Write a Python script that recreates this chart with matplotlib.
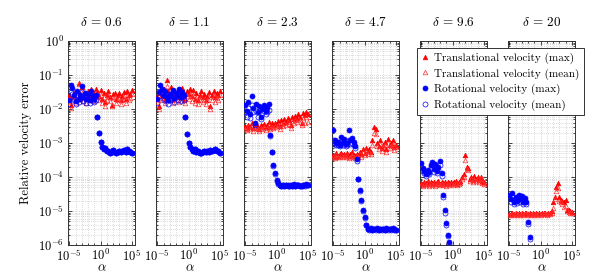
import numpy as np
import matplotlib
matplotlib.use("Agg")
import matplotlib.pyplot as plt
from matplotlib.ticker import FixedLocator, LogLocator, NullFormatter, LogFormatterSciNotation
from matplotlib.lines import Line2D

plt.rcParams['font.family'] = 'serif'
plt.rcParams['font.serif'] = ['cmr10', 'DejaVu Serif']
plt.rcParams['mathtext.fontset'] = 'cm'
plt.rcParams['axes.formatter.use_mathtext'] = True
plt.rcParams['axes.unicode_minus'] = True

# ---------------- data ----------------
alpha = 10.0 ** np.arange(-5, 5.001, 0.25)   # 41 regularization values
deltas = ["0.6", "1.1", "2.3", "4.7", "9.6", "20"]
nan = np.nan

# panel delta = 0.6
tm1 = [2.5e-2, 1.3e-2, 2.2e-2, 3.0e-2, 2.0e-2, 3.5e-2, 6.0e-2, 2.8e-2, 4.5e-2, 2.2e-2, 3.0e-2, 2.0e-2, 3.3e-2, 2.5e-2, 3.8e-2, 2.2e-2, 2.8e-2, 4.0e-2, 3.2e-2, 2.4e-2, 3.6e-2, 2.0e-2, 3.0e-2, 1.6e-2, 2.6e-2, 3.4e-2, 2.2e-2, 1.3e-2, 2.8e-2, 3.0e-2, 2.0e-2, 2.6e-2, 2.9e-2, 1.8e-2, 2.4e-2, 3.1e-2, 2.0e-2, 3.3e-2, 2.5e-2, 2.8e-2, 3.6e-2]
tn1 = [1.6e-2, 1.1e-2, 1.7e-2, 2.2e-2, 1.5e-2, 2.6e-2, 5.5e-2, 2.0e-2, 3.0e-2, 1.7e-2, 2.2e-2, 1.5e-2, 2.4e-2, 1.9e-2, 2.8e-2, 1.7e-2, 2.0e-2, 2.9e-2, 2.3e-2, 1.8e-2, 2.6e-2, 1.5e-2, 2.2e-2, 1.2e-2, 1.9e-2, 2.5e-2, 1.7e-2, 1.2e-2, 2.1e-2, 2.2e-2, 1.5e-2, 1.9e-2, 2.1e-2, 1.4e-2, 1.8e-2, 2.3e-2, 1.5e-2, 2.4e-2, 1.9e-2, 2.1e-2, 2.7e-2]
rm1 = [1.8e-2, 5.0e-2, 4.2e-2, 2.5e-2, 1.7e-2, 3.5e-2, 2.0e-2, 2.6e-2, 4.6e-2, 2.2e-2, 3.0e-2, 2.0e-2, 2.8e-2, 1.9e-2, 3.3e-2, 2.4e-2, 2.0e-2, 2.6e-2, 5.8e-3, 2.0e-3, 1.05e-3, 7.5e-4, 6.5e-4, 7.0e-4, 5.8e-4, 6.0e-4, 5.2e-4, 5.5e-4, 6.2e-4, 5.4e-4, 5.0e-4, 5.6e-4, 6.0e-4, 5.3e-4, 5.7e-4, 6.4e-4, 5.5e-4, 6.6e-4, 6.0e-4, 5.6e-4, 5.0e-4]
rn1 = [1.4e-2, 3.2e-2, 2.8e-2, 1.8e-2, 1.4e-2, 2.5e-2, 1.6e-2, 2.0e-2, 3.2e-2, 1.7e-2, 2.2e-2, 1.5e-2, 2.0e-2, 1.5e-2, 2.4e-2, 1.8e-2, 1.6e-2, 1.9e-2, 5.8e-3, 2.0e-3, 1.05e-3, 7.5e-4, 6.5e-4, 7.0e-4, 5.8e-4, 6.0e-4, 5.2e-4, 5.5e-4, 6.2e-4, 5.4e-4, 5.0e-4, 5.6e-4, 6.0e-4, 5.3e-4, 5.7e-4, 6.4e-4, 5.5e-4, 6.6e-4, 6.0e-4, 5.6e-4, 5.0e-4]

# panel delta = 1.1
tm2 = [2.2e-2, 1.2e-2, 3.0e-2, 2.4e-2, 3.8e-2, 2.0e-2, 7.0e-2, 3.4e-2, 2.6e-2, 4.4e-2, 2.0e-2, 3.2e-2, 2.4e-2, 3.6e-2, 2.2e-2, 3.0e-2, 4.2e-2, 2.6e-2, 2.0e-2, 3.4e-2, 2.8e-2, 4.0e-2, 2.4e-2, 3.6e-2, 2.0e-2, 2.9e-2, 1.8e-2, 2.5e-2, 3.3e-2, 2.2e-2, 2.7e-2, 1.9e-2, 2.4e-2, 3.2e-2, 1.2e-2, 2.6e-2, 3.4e-2, 2.2e-2, 2.9e-2, 2.5e-2, 3.5e-2]
tn2 = [1.6e-2, 1.0e-2, 2.1e-2, 1.8e-2, 2.7e-2, 1.5e-2, 4.6e-2, 2.4e-2, 1.9e-2, 3.0e-2, 1.5e-2, 2.3e-2, 1.8e-2, 2.5e-2, 1.6e-2, 2.1e-2, 2.9e-2, 1.9e-2, 1.5e-2, 2.4e-2, 2.0e-2, 2.8e-2, 1.7e-2, 2.5e-2, 1.5e-2, 2.1e-2, 1.4e-2, 1.8e-2, 2.3e-2, 1.6e-2, 1.9e-2, 1.4e-2, 1.8e-2, 2.2e-2, 1.0e-2, 1.9e-2, 2.4e-2, 1.6e-2, 2.1e-2, 1.8e-2, 2.5e-2]
rm2 = [2.0e-2, 3.2e-2, 5.0e-2, 4.0e-2, 2.6e-2, 3.5e-2, 2.2e-2, 1.8e-2, 2.8e-2, 2.4e-2, 3.6e-2, 2.1e-2, 3.0e-2, 2.5e-2, 3.8e-2, 2.2e-2, 3.2e-2, 2.6e-2, 5.9e-3, 1.9e-3, 1.0e-3, 7.5e-4, 6.8e-4, 6.0e-4, 6.5e-4, 5.5e-4, 5.8e-4, 5.2e-4, 5.0e-4, 5.6e-4, 6.0e-4, 5.4e-4, 5.9e-4, 5.5e-4, 6.2e-4, 5.7e-4, 6.4e-4, 6.6e-4, 5.8e-4, 6.0e-4, 5.2e-4]
rn2 = [1.5e-2, 2.4e-2, 3.4e-2, 2.8e-2, 1.9e-2, 2.5e-2, 1.7e-2, 1.4e-2, 2.0e-2, 1.8e-2, 2.6e-2, 1.6e-2, 2.2e-2, 1.9e-2, 2.7e-2, 1.7e-2, 2.3e-2, 1.9e-2, 5.9e-3, 1.9e-3, 1.0e-3, 7.5e-4, 6.8e-4, 6.0e-4, 6.5e-4, 5.5e-4, 5.8e-4, 5.2e-4, 5.0e-4, 5.6e-4, 6.0e-4, 5.4e-4, 5.9e-4, 5.5e-4, 6.2e-4, 5.7e-4, 6.4e-4, 6.6e-4, 5.8e-4, 6.0e-4, 5.2e-4]

# panel delta = 2.3
tm3 = [3.2e-3, 2.8e-3, 3.5e-3, 3.0e-3, 4.0e-3, 2.7e-3, 3.3e-3, 3.8e-3, 3.0e-3, 2.6e-3, 3.4e-3, 3.1e-3, 3.6e-3, 2.9e-3, 3.5e-3, 4.2e-3, 3.0e-3, 3.8e-3, 3.3e-3, 4.0e-3, 3.6e-3, 4.4e-3, 3.2e-3, 4.6e-3, 4.0e-3, 5.0e-3, 4.2e-3, 5.5e-3, 4.6e-3, 3.4e-3, 5.8e-3, 5.0e-3, 6.4e-3, 5.4e-3, 7.0e-3, 6.0e-3, 4.0e-3, 7.6e-3, 6.5e-3, 8.2e-3, 7.2e-3]
tn3 = [2.6e-3, 2.4e-3, 2.9e-3, 2.5e-3, 3.2e-3, 2.3e-3, 2.7e-3, 3.0e-3, 2.5e-3, 2.2e-3, 2.8e-3, 2.6e-3, 2.9e-3, 2.4e-3, 2.8e-3, 3.3e-3, 2.5e-3, 3.0e-3, 2.7e-3, 3.2e-3, 2.9e-3, 3.4e-3, 2.6e-3, 3.6e-3, 3.2e-3, 3.8e-3, 3.3e-3, 4.2e-3, 3.6e-3, 2.8e-3, 4.4e-3, 3.9e-3, 4.8e-3, 4.2e-3, 5.2e-3, 4.6e-3, 3.3e-3, 5.6e-3, 4.0e-3, 6.0e-3, 4.2e-3]
rm3 = [1.3e-2, 9.0e-3, 1.6e-2, 7.0e-3, 2.4e-2, 1.1e-2, 3.9e-3, 1.4e-2, 8.0e-3, 1.2e-2, 6.0e-3, 1.0e-2, 1.3e-2, 9.0e-3, 1.1e-2, 1.4e-2, 1.7e-3, 5.6e-4, 2.2e-4, 1.3e-4, 8.0e-5, 6.5e-5, 6.0e-5, 5.6e-5, 5.8e-5, 5.5e-5, 6.0e-5, 5.7e-5, 5.4e-5, 5.9e-5, 5.6e-5, 6.1e-5, 5.5e-5, 5.8e-5, 6.0e-5, 5.6e-5, 5.4e-5, 5.9e-5, 5.7e-5, 6.1e-5, 5.8e-5]
rn3 = [8.0e-3, 6.0e-3, 1.1e-2, 5.5e-3, 1.3e-2, 8.0e-3, 3.5e-3, 9.0e-3, 6.0e-3, 8.5e-3, 5.0e-3, 7.5e-3, 9.0e-3, 7.0e-3, 8.0e-3, 9.5e-3, 1.6e-3, 5.4e-4, 2.1e-4, 1.25e-4, 7.8e-5, 6.4e-5, 5.9e-5, 5.5e-5, 5.7e-5, 5.4e-5, 5.9e-5, 5.6e-5, 5.3e-5, 5.8e-5, 5.5e-5, 6.0e-5, 5.4e-5, 5.7e-5, 5.9e-5, 5.5e-5, 5.3e-5, 5.8e-5, 5.6e-5, 6.0e-5, 5.7e-5]

# panel delta = 4.7
tm4 = [4.5e-4, 4.0e-4, 5.0e-4, 4.2e-4, 4.6e-4, 5.2e-4, 4.3e-4, 4.8e-4, 4.4e-4, 5.0e-4, 4.1e-4, 4.6e-4, 5.3e-4, 4.5e-4, 4.2e-4, 4.9e-4, 4.4e-4, 5.5e-4, 4.6e-4, 6.5e-4, 5.2e-4, 7.0e-4, 5.8e-4, 6.6e-4, 5.5e-4, 1.2e-3, 3.0e-3, 2.6e-3, 1.0e-3, 8.0e-4, 1.2e-3, 7.0e-4, 9.0e-4, 1.1e-3, 6.5e-4, 1.3e-3, 8.5e-4, 1.0e-3, 1.2e-3, 7.5e-4, 9.0e-4]
tn4 = [3.9e-4, 3.6e-4, 4.3e-4, 3.8e-4, 4.0e-4, 4.4e-4, 3.8e-4, 4.1e-4, 3.9e-4, 4.3e-4, 3.7e-4, 4.0e-4, 4.5e-4, 3.9e-4, 3.7e-4, 4.2e-4, 3.9e-4, 4.6e-4, 4.0e-4, 5.4e-4, 4.5e-4, 5.8e-4, 4.9e-4, 5.5e-4, 4.7e-4, 9.0e-4, 2.0e-3, 1.8e-3, 8.0e-4, 6.6e-4, 9.5e-4, 6.0e-4, 7.5e-4, 8.8e-4, 5.6e-4, 1.0e-3, 7.0e-4, 8.2e-4, 9.5e-4, 6.3e-4, 7.4e-4]
rm4 = [2.4e-3, 1.2e-3, 1.0e-3, 1.1e-3, 9.0e-4, 1.5e-3, 1.1e-3, 1.3e-3, 9.5e-4, 1.0e-3, 2.4e-3, 1.2e-3, 1.4e-3, 1.1e-3, 8.0e-4, 3.4e-4, 9.0e-5, 4.2e-5, 2.1e-5, 1.07e-5, 6.5e-6, 3.9e-6, 3.0e-6, 2.9e-6, 3.1e-6, 2.8e-6, 3.0e-6, 2.9e-6, 3.1e-6, 2.8e-6, 3.0e-6, 2.9e-6, 3.0e-6, 2.8e-6, 3.1e-6, 2.9e-6, 3.0e-6, 2.9e-6, 3.1e-6, 2.9e-6, 2.8e-6]
rn4 = [1.2e-3, 9.5e-4, 8.5e-4, 9.0e-4, 8.0e-4, 1.1e-3, 9.0e-4, 1.0e-3, 8.2e-4, 8.6e-4, 1.2e-3, 9.4e-4, 1.0e-3, 9.0e-4, 7.0e-4, 3.0e-4, 8.5e-5, 4.0e-5, 2.0e-5, 1.03e-5, 6.3e-6, 3.8e-6, 2.9e-6, 2.8e-6, 3.0e-6, 2.7e-6, 2.9e-6, 2.8e-6, 3.0e-6, 2.7e-6, 2.9e-6, 2.8e-6, 2.9e-6, 2.7e-6, 3.0e-6, 2.8e-6, 2.9e-6, 2.8e-6, 3.0e-6, 2.8e-6, 2.7e-6]

# panel delta = 9.6
tm5 = [6.8e-5, 6.2e-5, 7.2e-5, 6.5e-5, 7.5e-5, 6.3e-5, 7.0e-5, 6.6e-5, 7.3e-5, 6.2e-5, 6.9e-5, 7.4e-5, 6.4e-5, 7.1e-5, 6.6e-5, 7.0e-5, 6.3e-5, 7.2e-5, 6.7e-5, 7.3e-5, 6.5e-5, 6.9e-5, 7.4e-5, 6.4e-5, 7.0e-5, 7.6e-5, 1.0e-4, 1.2e-4, 4.5e-4, 2.0e-4, 1.9e-4, 9.0e-5, 1.0e-4, 8.0e-5, 1.05e-4, 9.0e-5, 1.0e-4, 8.0e-5, 1.0e-4, 7.5e-5, 7.0e-5]
tn5 = [6.0e-5, 5.6e-5, 6.3e-5, 5.8e-5, 6.5e-5, 5.6e-5, 6.2e-5, 5.9e-5, 6.4e-5, 5.5e-5, 6.1e-5, 6.5e-5, 5.7e-5, 6.2e-5, 5.9e-5, 6.2e-5, 5.6e-5, 6.3e-5, 6.0e-5, 6.4e-5, 5.8e-5, 6.1e-5, 6.5e-5, 5.7e-5, 6.2e-5, 6.6e-5, 8.5e-5, 1.0e-4, 3.2e-4, 1.7e-4, 1.6e-4, 7.8e-5, 8.6e-5, 7.0e-5, 9.0e-5, 7.8e-5, 8.5e-5, 7.0e-5, 8.6e-5, 6.6e-5, 6.2e-5]
rm5 = [2.5e-4, 1.8e-4, 1.5e-4, 1.2e-4, 1.6e-4, 1.4e-4, 2.2e-4, 2.8e-4, 1.7e-4, 2.4e-4, 1.5e-4, 2.0e-4, 3.0e-4, 1.3e-4, 3.0e-5, 1.07e-5, 4.5e-6, 2.0e-6, 1.2e-6, nan, nan, nan, nan, nan, nan, nan, nan, nan, nan, nan, nan, nan, nan, nan, nan, nan, nan, nan, nan, nan, nan]
rn5 = [2.0e-4, 1.5e-4, 1.3e-4, 1.05e-4, 1.35e-4, 1.2e-4, 1.8e-4, 2.2e-4, 1.45e-4, 1.9e-4, 1.3e-4, 1.65e-4, 2.3e-4, 1.1e-4, 2.5e-5, 9.0e-6, 3.9e-6, 1.8e-6, 1.1e-6, nan, nan, nan, nan, nan, nan, nan, nan, nan, nan, nan, nan, nan, nan, nan, nan, nan, nan, nan, nan, nan, nan]

# panel delta = 20
tm6 = [8.4e-6, 8.0e-6, 8.8e-6, 8.2e-6, 9.0e-6, 8.1e-6, 8.6e-6, 8.3e-6, 8.9e-6, 8.0e-6, 8.5e-6, 9.0e-6, 8.2e-6, 8.7e-6, 8.4e-6, 8.8e-6, 8.1e-6, 8.6e-6, 8.3e-6, 9.0e-6, 8.2e-6, 8.7e-6, 8.5e-6, 8.9e-6, 8.3e-6, 8.8e-6, 9.0e-6, 1.0e-5, 1.8e-5, 2.6e-5, 5.0e-5, 6.5e-5, 2.5e-5, 2.1e-5, 2.0e-5, 1.8e-5, 2.1e-5, 1.1e-5, 1.05e-5, 1.0e-5, 9.5e-6]
tn6 = [7.8e-6, 7.5e-6, 8.1e-6, 7.6e-6, 8.3e-6, 7.5e-6, 8.0e-6, 7.7e-6, 8.2e-6, 7.4e-6, 7.9e-6, 8.3e-6, 7.6e-6, 8.0e-6, 7.8e-6, 8.1e-6, 7.5e-6, 8.0e-6, 7.7e-6, 8.3e-6, 7.6e-6, 8.0e-6, 7.9e-6, 8.2e-6, 7.7e-6, 8.1e-6, 8.3e-6, 9.0e-6, 1.2e-5, 2.3e-5, 4.0e-5, 4.7e-5, 2.0e-5, 1.9e-5, 1.6e-5, 1.35e-5, 1.4e-5, 1.0e-5, 9.5e-6, 9.0e-6, 8.8e-6]
rm6 = [3.0e-5, 2.2e-5, 3.3e-5, 1.8e-5, 2.5e-5, 2.0e-5, 3.0e-5, 2.2e-5, 2.8e-5, 1.9e-5, 2.4e-5, 1.8e-5, 4.9e-6, 1.7e-6, nan, nan, nan, nan, nan, nan, nan, nan, nan, nan, nan, nan, nan, nan, nan, nan, nan, nan, nan, nan, nan, nan, nan, nan, nan, nan, nan]
rn6 = [2.5e-5, 1.9e-5, 2.7e-5, 1.6e-5, 2.1e-5, 1.75e-5, 2.5e-5, 1.9e-5, 2.3e-5, 1.65e-5, 2.0e-5, 1.6e-5, 4.2e-6, 1.5e-6, nan, nan, nan, nan, nan, nan, nan, nan, nan, nan, nan, nan, nan, nan, nan, nan, nan, nan, nan, nan, nan, nan, nan, nan, nan, nan, nan]

trans_max = [tm1, tm2, tm3, tm4, tm5, tm6]
trans_mean = [tn1, tn2, tn3, tn4, tn5, tn6]
rot_max = [rm1, rm2, rm3, rm4, rm5, rm6]
rot_mean = [rn1, rn2, rn3, rn4, rn5, rn6]
labels = ["Translational velocity (max)", "Translational velocity (mean)",
          "Rotational velocity (max)", "Rotational velocity (mean)"]

# ---------------- figure ----------------
W, H = 598, 275
fig = plt.figure(figsize=(W / 100, H / 100), dpi=100)

left0, width, step = 68, 67, 88
top, bottom = 41, 245
grid_kw = dict(color='#b8b8b8', linestyle=(0, (1, 2)), linewidth=0.5)

for k in range(6):
    ax = fig.add_axes([(left0 + k * step) / W, 1 - bottom / H, width / W, (bottom - top) / H])
    ax.set_xscale('log')
    ax.set_yscale('log')
    ax.plot(alpha, trans_max[k], ls='none', marker='^', ms=3.3, mfc='red', mec='red', mew=0.5, zorder=3)
    ax.plot(alpha, trans_mean[k], ls='none', marker='^', ms=3.3, mfc='none', mec='#ff3030', mew=0.5, zorder=3)
    ax.plot(alpha, rot_max[k], ls='none', marker='o', ms=3.6, mfc='blue', mec='blue', mew=0.5, zorder=4)
    ax.plot(alpha, rot_mean[k], ls='none', marker='o', ms=3.6, mfc='none', mec='blue', mew=0.5, zorder=4)
    ax.set_xlim(10 ** -5.2, 10 ** 5.5)
    ax.set_ylim(1e-6, 1)
    ax.xaxis.set_major_locator(FixedLocator([1e-5, 1e0, 1e5]))
    ax.xaxis.set_minor_locator(FixedLocator([10.0 ** e for e in range(-5, 6)]))
    ax.xaxis.set_minor_formatter(NullFormatter())
    ax.xaxis.set_major_formatter(LogFormatterSciNotation())
    ax.yaxis.set_major_locator(LogLocator(base=10, numticks=20))
    ax.yaxis.set_minor_locator(LogLocator(base=10, subs=np.arange(2, 10), numticks=20))
    ax.yaxis.set_minor_formatter(NullFormatter())
    ax.grid(True, which='both', **grid_kw)
    ax.set_axisbelow(True)
    ax.tick_params(which='both', direction='in', top=True, right=True, labelsize=9, width=0.5)
    ax.tick_params(which='major', length=3)
    ax.tick_params(axis='x', which='major', pad=2)
    ax.tick_params(axis='y', which='major', pad=3)
    ax.tick_params(which='minor', length=1.6)
    if k > 0:
        ax.tick_params(labelleft=False)
    for s in ax.spines.values():
        s.set_linewidth(0.7)
        s.set_color('#333333')
    ax.set_title(r"$\delta\,=\,%s$" % deltas[k], fontsize=9.5, pad=11)
    ax.set_xlabel(r"$\alpha$", fontsize=9.5, labelpad=-1)
    if k == 0:
        ax.set_ylabel("Relative velocity error", fontsize=9, labelpad=4)

handles = [
    Line2D([], [], ls='none', marker='^', ms=3.3, mfc='red', mec='red', mew=0.5),
    Line2D([], [], ls='none', marker='^', ms=3.3, mfc='none', mec='#ff3030', mew=0.5),
    Line2D([], [], ls='none', marker='o', ms=3.6, mfc='blue', mec='blue', mew=0.5),
    Line2D([], [], ls='none', marker='o', ms=3.6, mfc='none', mec='blue', mew=0.5),
]
leg = fig.legend(handles, labels, loc='upper left', bbox_to_anchor=(416.7 / W, 1 - 48.3 / H),
                 fontsize=8.0, frameon=True, fancybox=False, framealpha=1, edgecolor='#333333',
                 handlelength=0.7, handletextpad=0.45, borderpad=0.4, labelspacing=0.38,
                 borderaxespad=0)
leg.get_frame().set_linewidth(0.7)

fig.savefig("out.png", dpi=100)
